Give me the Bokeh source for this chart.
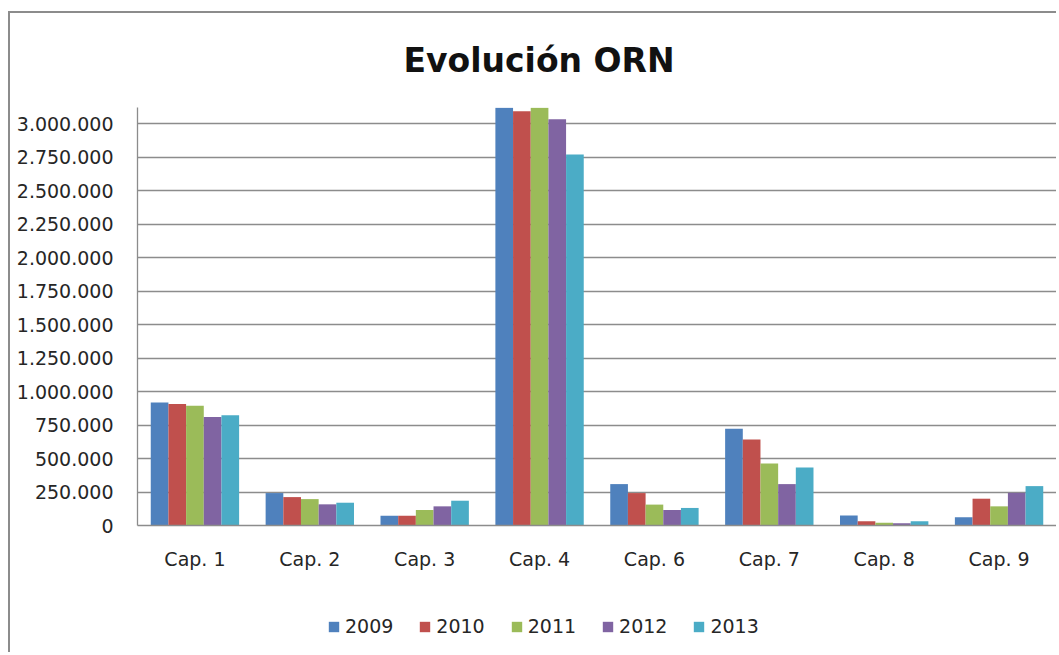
from bokeh.plotting import figure
from bokeh.layouts import column
from bokeh.models import (ColumnDataSource, FactorRange, Range1d, FixedTicker,
                          CustomJSTickFormatter, Legend, LegendItem)
from bokeh.transform import dodge
from bokeh.embed import file_html
from bokeh.resources import INLINE

categories = ["Cap. 1", "Cap. 2", "Cap. 3", "Cap. 4", "Cap. 6", "Cap. 7", "Cap. 8", "Cap. 9"]
years = ["2009", "2010", "2011", "2012", "2013"]
v2009 = [918000, 242000, 72000, 3118000, 309000, 723000, 74000, 62000]
v2010 = [906000, 212000, 72000, 3092000, 242000, 642000, 32000, 200000]
v2011 = [894000, 197000, 116000, 3118000, 156000, 462000, 20000, 143000]
v2012 = [810000, 158000, 143000, 3032000, 116000, 309000, 17000, 244000]
v2013 = [822000, 170000, 185000, 2769000, 131000, 432000, 32000, 294000]
colors = ["#4F81BD", "#C0504D", "#9BBB59", "#8064A2", "#4BACC6"]
y_ticks = list(range(0, 3000001, 250000))
y_max = 3120000

source = ColumnDataSource(dict(cat=categories, y2009=v2009, y2010=v2010,
                               y2011=v2011, y2012=v2012, y2013=v2013))

FONT = "DejaVu Sans"
TXT = "#262626"
W = 1046

p = figure(x_range=FactorRange(*categories), y_range=Range1d(0, y_max),
           width=W, height=559, output_backend="svg", toolbar_location=None,
           min_border_left=127, min_border_right=0, min_border_top=94,
           min_border_bottom=47, title="Evolución ORN")

bw = 1.0 / 6.5
offsets = [-2 * bw, -bw, 0, bw, 2 * bw]
for yr, col, off in zip(years, colors, offsets):
    p.vbar(x=dodge("cat", off, range=p.x_range), top="y" + yr, width=bw,
           source=source, fill_color=col, line_color=None)

p.title.align = "left"
p.title.offset = 266
p.title.vertical_align = "top"
p.title.standoff = 52
p.title.text_font = FONT
p.title.text_font_size = "33px"
p.title.text_font_style = "bold"
p.title.text_color = "#111111"

p.outline_line_color = None
p.background_fill_color = "white"
p.border_fill_color = "white"

p.xgrid.grid_line_color = None
p.ygrid.grid_line_color = "#8c8c8c"
p.ygrid.grid_line_width = 1.3

p.yaxis.ticker = FixedTicker(ticks=y_ticks)
p.yaxis.formatter = CustomJSTickFormatter(code="""
return Math.round(tick).toString().replace(/\\B(?=(\\d{3})+(?!\\d))/g, ".");
""")
for ax in (p.xaxis[0], p.yaxis[0]):
    ax.axis_line_color = "#8c8c8c"
    ax.axis_line_width = 1.3
    ax.major_tick_line_color = None
    ax.minor_tick_line_color = None
    ax.major_tick_out = 0
    ax.major_tick_in = 0
    ax.major_label_text_font = FONT
    ax.major_label_text_font_size = "19px"
    ax.major_label_text_color = TXT
p.yaxis.major_label_standoff = 24
p.xaxis.major_label_standoff = 22
p.x_range.range_padding = 0
p.x_range.group_padding = 0

# legend strip below the chart (its bars lie wholly outside its own y range)
p2 = figure(x_range=FactorRange(*categories), y_range=Range1d(1e9, 2e9),
            width=W, height=80, output_backend="svg", toolbar_location=None,
            x_axis_location=None, y_axis_location=None,
            min_border=0, outline_line_color=None)
p2.xgrid.grid_line_color = None
p2.ygrid.grid_line_color = None
items = []
for yr, col, off in zip(years, colors, offsets):
    r = p2.vbar(x=dodge("cat", off, range=p2.x_range), top="y" + yr, width=bw,
                source=source, fill_color=col, line_color=None)
    items.append(LegendItem(label=yr, renderers=[r]))
legend = Legend(items=items, orientation="horizontal", location=(190, 15),
                padding=0, margin=0, border_line_color=None, background_fill_alpha=0,
                glyph_width=13, glyph_height=13, label_standoff=5, spacing=25,
                label_text_font=FONT, label_text_font_size="19px", label_text_color=TXT)
p2.add_layout(legend, "center")

layout = column(p, p2, spacing=0,
                styles={"margin-left": "8px", "margin-top": "11px",
                        "border-left": "2px solid #8c8c8c", "border-top": "2px solid #8c8c8c"})

open("out.html", "w").write(file_html(layout, INLINE))
